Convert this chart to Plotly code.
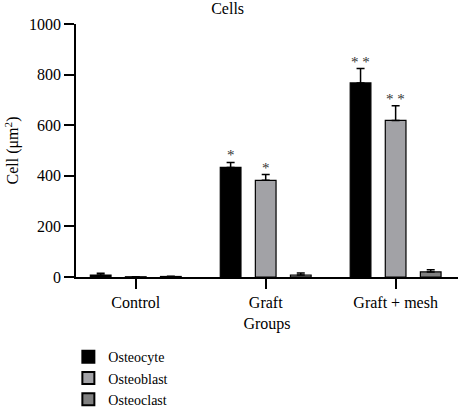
import plotly.graph_objects as go

groups = ["Control", "Graft", "Graft + mesh"]
series_names = ["Osteocyte", "Osteoblast", "Osteoclast"]
values = {
    "Osteocyte": [8, 433, 767],
    "Osteoblast": [1, 382, 619],
    "Osteoclast": [2, 8, 20],
}
errors = {
    "Osteocyte": [7, 20, 57],
    "Osteoblast": [0, 23, 58],
    "Osteoclast": [1, 8, 9],
}
stars = {
    "Osteocyte": ["", "*", "* *"],
    "Osteoblast": ["", "*", "* *"],
    "Osteoclast": ["", "", ""],
}
colors = {"Osteocyte": "#000000", "Osteoblast": "#a2a2a6", "Osteoclast": "#808080"}

FONT = "Liberation Serif"
FS = 16
bargap = 0.19
bargroupgap = 0.41
xs = list(range(len(groups)))

fig = go.Figure()
for name in series_names:
    fig.add_trace(go.Bar(
        x=xs, y=values[name], name=name,
        marker=dict(color=colors[name], line=dict(color="#000000", width=1.2)),
        error_y=dict(type="data", symmetric=False, array=errors[name],
                     arrayminus=[0] * len(groups), color="#000000",
                     thickness=1.5, width=4),
    ))

slot = (1 - bargap) / len(series_names)
annotations = []
for i, name in enumerate(series_names):
    for j, x in enumerate(xs):
        if stars[name][j]:
            annotations.append(dict(
                x=x + (i - (len(series_names) - 1) / 2) * slot,
                y=values[name][j] + errors[name][j],
                text=stars[name][j], showarrow=False, yanchor="bottom",
                yshift=-3, font=dict(family=FONT, size=15, color="#333333"),
            ))

fig.update_layout(
    width=458, height=408,
    margin=dict(l=76, r=0, t=24, b=131, pad=0, autoexpand=False),
    paper_bgcolor="white", plot_bgcolor="white",
    barmode="group", bargap=bargap, bargroupgap=bargroupgap,
    font=dict(family=FONT, size=FS, color="#000000"),
    title=dict(text="Cells", x=0.497, xanchor="center", yref="container",
               y=0.979, yanchor="middle",
               font=dict(family=FONT, size=FS, color="#000000")),
    xaxis=dict(tickmode="array", tickvals=xs, ticktext=groups,
               range=[-0.46, 2.48], showline=True, linecolor="#000000", linewidth=1.5,
               ticks="outside", ticklen=10, tickwidth=1.5, tickcolor="#000000",
               tickfont=dict(family=FONT, size=FS, color="#000000"),
               showgrid=False, zeroline=False,
               title=dict(text="Groups", standoff=8,
                          font=dict(family=FONT, size=FS, color="#000000"))),
    yaxis=dict(range=[0, 1000], tickvals=[0, 200, 400, 600, 800, 1000],
               showline=True, linecolor="#000000", linewidth=1.5,
               ticks="outside", ticklen=10, tickwidth=1.5, tickcolor="#000000",
               tickfont=dict(family=FONT, size=FS, color="#000000"),
               showgrid=False, zeroline=False,
               title=dict(text="Cell (μm<sup>2</sup>)", standoff=6,
                          font=dict(family=FONT, size=FS, color="#000000"))),
    legend=dict(x=-0.02, xanchor="left", y=-0.254, yanchor="top",
                bgcolor="rgba(0,0,0,0)", font=dict(family=FONT, size=14, color="#000000"),
                tracegroupgap=0, itemsizing="constant"),
    annotations=annotations,
    showlegend=True,
)

fig.write_html("out.html")
